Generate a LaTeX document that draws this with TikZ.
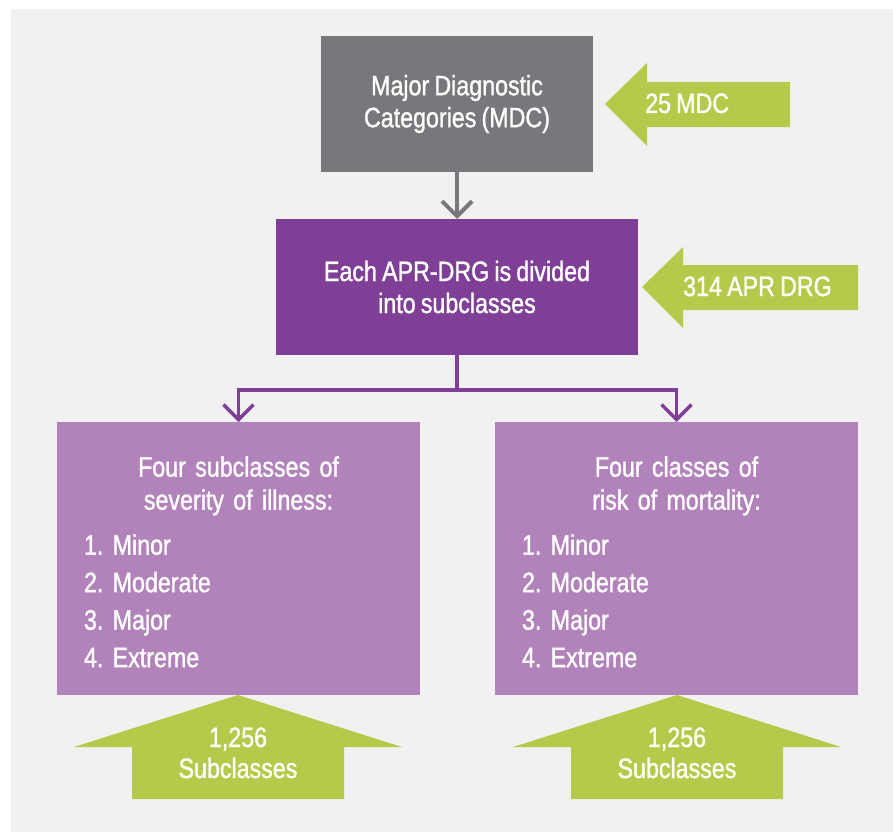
\documentclass[tikz,border=0pt]{standalone}
\usepackage{fontspec}
\setmainfont[FakeStretch=0.83,FakeBold=1.2,WordSpace=0.8]{Liberation Sans}
\usetikzlibrary{arrows.meta}

\definecolor{bggray}{HTML}{F0F1F0}
\definecolor{mdcgray}{HTML}{77787B}
\definecolor{aprpurple}{HTML}{7F3F97}
\definecolor{subpurple}{HTML}{B283BA}
\definecolor{limegreen}{HTML}{B5CA4A}

\newcommand{\headline}[1]{\makebox[309pt]{#1}}
\frenchspacing

\begin{document}
\begin{tikzpicture}[x=1pt,y=-1pt,
    box/.style={inner sep=0,outer sep=0,text=white,align=center,
        font=\fontsize{28}{32}\selectfont},
    subbox/.style={box,fill=subpurple,minimum width=363,minimum height=273,
        text width=309,align=left},
    lbl/.style={text=white,inner sep=0,font=\fontsize{28}{31}\selectfont,align=center},
    link/.style={line width=3.5pt,-{Straight Barb[length=15pt,width=30pt]}}]
                    \useasboundingbox (0,0) rectangle (893,832);
                    \fill[bggray] (11,9) rectangle (893,832);

                    %NODE
                    \node[box,fill=mdcgray,minimum width=272,minimum height=136] (mdc) at (457,104)
                        {Major Diagnostic\\Categories (MDC)};
                    \node[box,fill=aprpurple,minimum width=362,minimum height=136] (apr) at (457,287)
                        {Each APR-DRG is divided\\into subclasses};
                    \node[subbox] (sev) at (238.5,558.5)
                        {\rule{0pt}{27pt}\headline{Four subclasses of}\\[1pt]\headline{severity of illness:}\\[13pt]
                         1. Minor\\[5.5pt]2. Moderate\\[5.5pt]3. Major\\[5.5pt]4. Extreme};
                    \node[subbox] (mort) at (676.5,558.5)
                        {\rule{0pt}{27pt}\headline{Four classes of}\\[1pt]\headline{risk of mortality:}\\[13pt]
                         1. Minor\\[5.5pt]2. Moderate\\[5.5pt]3. Major\\[5.5pt]4. Extreme};

                    %GREEN ARROWS
                    \fill[limegreen] (605,104) -- (647,63) -- (647,82) -- (790,82)
                        -- (790,127) -- (647,127) -- (647,146) -- cycle;
                    \node[lbl,anchor=base west] (mdcnum) at (645,113) {25 MDC};
                    \fill[limegreen] (642,287) -- (683,247) -- (683,265) -- (858,265)
                        -- (858,310) -- (683,310) -- (683,328) -- cycle;
                    \node[lbl,anchor=base west] (aprnum) at (683,296) {314 APR DRG};
                    \fill[limegreen] (238,695) -- (402,747) -- (344,747) -- (344,799)
                        -- (132,799) -- (132,747) -- (74,747) -- cycle;
                    \node[lbl,anchor=base] (sevnum) at (238,778) {1,256\\Subclasses};
                    \fill[limegreen] (677,695) -- (841,747) -- (783,747) -- (783,799)
                        -- (571,799) -- (571,747) -- (513,747) -- cycle;
                    \node[lbl,anchor=base] (mortnum) at (677,778) {1,256\\Subclasses};

                    %EDGE
                    \draw[link,mdcgray,line width=4pt] (mdc) -- (apr);
                    \draw[link,aprpurple] (apr.south) -- ++(0,35) -| (sev.north);
                    \draw[link,aprpurple] (apr.south) -- ++(0,35) -| (mort.north);
                \end{tikzpicture}
\end{document}
